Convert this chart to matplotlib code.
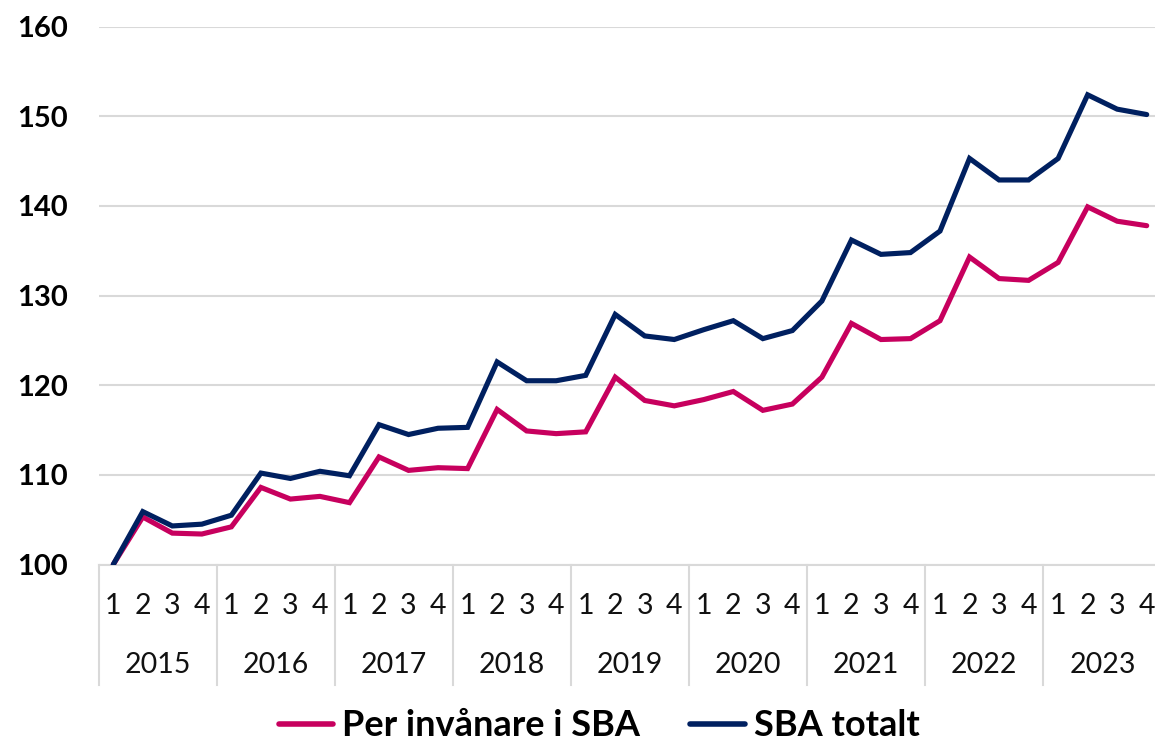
import matplotlib
matplotlib.use("Agg")
import matplotlib.pyplot as plt
import matplotlib.transforms as mtrans

plt.rcParams['font.family'] = ['Lato', 'DejaVu Sans']

years = ['2015', '2016', '2017', '2018', '2019', '2020', '2021', '2022', '2023']
quarters = ['1', '2', '3', '4']

per_invanare = [100.0, 105.3, 103.5, 103.4,
                104.2, 108.6, 107.3, 107.6,
                106.9, 112.0, 110.5, 110.8,
                110.7, 117.3, 114.9, 114.6,
                114.8, 120.9, 118.3, 117.7,
                118.4, 119.3, 117.2, 117.9,
                120.9, 126.9, 125.1, 125.2,
                127.2, 134.3, 131.9, 131.7,
                133.7, 139.9, 138.3, 137.8]

sba_totalt = [100.0, 105.9, 104.3, 104.5,
              105.5, 110.2, 109.6, 110.4,
              109.9, 115.6, 114.5, 115.2,
              115.3, 122.6, 120.5, 120.5,
              121.1, 127.9, 125.5, 125.1,
              126.2, 127.2, 125.2, 126.1,
              129.4, 136.2, 134.6, 134.8,
              137.2, 145.3, 142.9, 142.9,
              145.3, 152.4, 150.8, 150.2]

series_names = ['Per invånare i SBA', 'SBA totalt']
colors = ['#C7005E', '#002060']

W, H = 1155, 746
fig = plt.figure(figsize=(W / 100, H / 100), dpi=100)
left_px, right_px, top_px, bottom_px = 98.5, 1155, 26.7, 564.5
ax = fig.add_axes([left_px / W, 1 - bottom_px / H, (right_px - left_px) / W, (bottom_px - top_px) / H])

n = len(per_invanare)
x = list(range(n))
spacing = (1146.7 - 113.3) / 35
xr = 35 + (right_px - 1146.7) / spacing
ax.plot(x, per_invanare, color=colors[0], lw=3.7, solid_joinstyle='miter', solid_capstyle='round', label=series_names[0], zorder=3)
ax.plot(x, sba_totalt, color=colors[1], lw=3.7, solid_joinstyle='miter', solid_capstyle='round', label=series_names[1], zorder=4)

ax.set_xlim(-0.5, xr)
ax.set_ylim(100, 160)
ax.set_yticks([100, 110, 120, 130, 140, 150, 160])
ax.set_yticklabels(['100', '110', '120', '130', '140', '150', '160'], fontsize=21, fontweight='bold')
ax.tick_params(axis='y', length=0, pad=22)
ax.grid(axis='y', color='#D9D9D9', lw=1.5)
ax.set_axisbelow(True)
for s in ['left', 'right', 'top']:
    ax.spines[s].set_visible(False)
ax.spines['bottom'].set_color('#D9D9D9')
ax.spines['bottom'].set_linewidth(1.5)
ax.set_xticks([])

trans = mtrans.blended_transform_factory(ax.transData, ax.transAxes)
ah = bottom_px - top_px
for i in range(n):
    ax.text(i, -(606 - bottom_px) / ah, quarters[i % 4], transform=trans,
            ha='center', va='center', fontsize=20.5, color='#111111')
for j, yr in enumerate(years):
    ax.text(j * 4 + 1.5, -(665 - bottom_px) / ah, yr, transform=trans,
            ha='center', va='center', fontsize=20.5, color='#111111')
for j in range(len(years) + 1):
    ax.plot([j * 4 - 0.5, j * 4 - 0.5], [0, -(685 - bottom_px) / ah], transform=trans,
            color='#D9D9D9', lw=1.5, clip_on=False)

leg = fig.legend(loc='center', bbox_to_anchor=(599 / W, 1 - 726 / H), ncol=2, frameon=False,
                 prop={'size': 26, 'weight': 'bold'}, handlelength=1.5, handletextpad=0.25,
                 columnspacing=1.4, borderpad=0)
for line in leg.get_lines():
    line.set_linewidth(4)

fig.savefig('out.png', dpi=100)
